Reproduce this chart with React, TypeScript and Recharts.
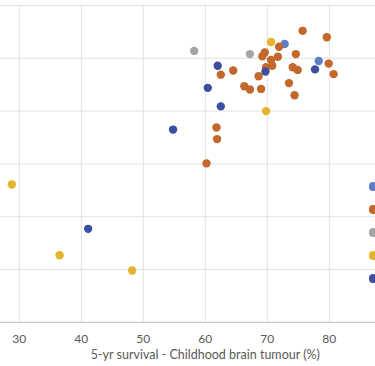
import {
  ScatterChart,
  Scatter,
  XAxis,
  YAxis,
  CartesianGrid,
  Legend,
} from "recharts";

// x = 5-yr survival, childhood brain tumour (%); y = second indicator (axis cropped off)
const GROUP_NAMES = ["Group 1", "Group 2", "Group 3", "Group 4", "Group 5"];
const GROUP_COLORS = ["#5B80C8", "#C4672B", "#A5A5A5", "#E4B42A", "#3E4FA2"];

const group1 = [
  { x: 72.8, y: 52.7 },
  { x: 78.3, y: 49.5 },
];

const group2 = [
  { x: 75.7, y: 55.2 },
  { x: 79.6, y: 54.0 },
  { x: 71.9, y: 52.2 },
  { x: 69.6, y: 51.1 },
  { x: 69.2, y: 50.4 },
  { x: 71.7, y: 50.3 },
  { x: 74.6, y: 50.8 },
  { x: 70.6, y: 49.7 },
  { x: 70.8, y: 48.6 },
  { x: 69.8, y: 48.3 },
  { x: 74.1, y: 48.3 },
  { x: 74.9, y: 47.8 },
  { x: 79.9, y: 49.0 },
  { x: 80.7, y: 47.0 },
  { x: 73.5, y: 45.3 },
  { x: 74.4, y: 43.0 },
  { x: 68.6, y: 46.6 },
  { x: 66.3, y: 44.7 },
  { x: 67.2, y: 44.1 },
  { x: 69.0, y: 44.2 },
  { x: 64.5, y: 47.7 },
  { x: 62.5, y: 46.9 },
  { x: 61.8, y: 36.9 },
  { x: 61.9, y: 34.7 },
  { x: 60.2, y: 30.1 },
];

const group3 = [
  { x: 58.2, y: 51.4 },
  { x: 67.2, y: 50.8 },
];

const group4 = [
  { x: 70.6, y: 53.1 },
  { x: 69.8, y: 40.0 },
  { x: 28.8, y: 26.1 },
  { x: 36.5, y: 12.7 },
  { x: 48.2, y: 9.8 },
];

const group5 = [
  { x: 62.0, y: 48.6 },
  { x: 60.4, y: 44.4 },
  { x: 62.5, y: 40.9 },
  { x: 69.7, y: 47.5 },
  { x: 77.7, y: 47.9 },
  { x: 54.8, y: 36.5 },
  { x: 41.1, y: 17.7 },
];

const SERIES = [group1, group2, group3, group4, group5];

const X_TICKS = [20, 30, 40, 50, 60, 70, 80, 90, 100];
const Y_TICKS = [0, 10, 20, 30, 40, 50];

const FONT = "Lato, 'Open Sans', sans-serif";

function Dot(props: any) {
  const { cx, cy, fill } = props;
  if (cx == null || cy == null) return null;
  return <circle cx={cx} cy={cy} r={4.2} fill={fill} />;
}

// legend sits at the right edge; only the markers are in view
function LegendList({ payload }: any) {
  return (
    <div>
      {(payload || []).map((p: any) => {
        const color = GROUP_COLORS[GROUP_NAMES.indexOf(p.value)] || p.color;
        return (
          <div
            key={p.value}
            style={{
              height: 23,
              display: "flex",
              alignItems: "center",
              whiteSpace: "nowrap",
              fontFamily: FONT,
              fontSize: 12,
              color: "#595959",
            }}
          >
            <span
              style={{
                display: "inline-block",
                width: 8.4,
                height: 8.4,
                borderRadius: "50%",
                background: color,
                marginRight: 6,
                flex: "none",
              }}
            />
            <span>{p.value}</span>
          </div>
        );
      })}
    </div>
  );
}

export default function App() {
  return (
    <>
      <style>{`html, body { margin: 0; padding: 0; overflow: hidden; background: #fff; }`}</style>
      <div
        style={{
          position: "relative",
          width: 375,
          height: 366,
          overflow: "hidden",
          background: "#fff",
        }}
      >
        <ScatterChart
          width={375}
          height={366}
          margin={{ top: 5.5, right: -78.3, bottom: 0, left: -43.7 }}
        >
          <CartesianGrid stroke="#E2E2E2" strokeWidth={1} />
          <XAxis
            type="number"
            dataKey="x"
            domain={[20, 100]}
            ticks={X_TICKS}
            interval={0}
            height={43.7}
            tickLine={false}
            tickSize={6}
            tickMargin={6}
            axisLine={{ stroke: "#C8C8C8" }}
            tick={{ fontSize: 12, fill: "#595959", fontFamily: FONT }}
            label={{
              value: "5-yr survival - Childhood brain tumour (%)",
              position: "insideBottom",
              offset: 7,
              fill: "#595959",
              fontSize: 12.5,
              fontFamily: FONT,
            }}
          />
          <YAxis
            type="number"
            dataKey="y"
            domain={[0, 60]}
            ticks={Y_TICKS}
            interval={0}
            width={1}
            tick={() => <g />}
            tickLine={false}
            axisLine={false}
          />
          <Legend
            layout="horizontal"
            align="center"
            verticalAlign="middle"
            content={<LegendList />}
            wrapperStyle={{
              left: 368.8,
              top: 175.2,
              width: 6.2,
              height: 115,
              overflow: "hidden",
            }}
          />
          {SERIES.map((data, i) => (
            <Scatter
              key={GROUP_NAMES[i]}
              name={GROUP_NAMES[i]}
              data={data}
              fill={GROUP_COLORS[i]}
              shape={<Dot />}
              isAnimationActive={false}
            />
          ))}
        </ScatterChart>
      </div>
    </>
  );
}
